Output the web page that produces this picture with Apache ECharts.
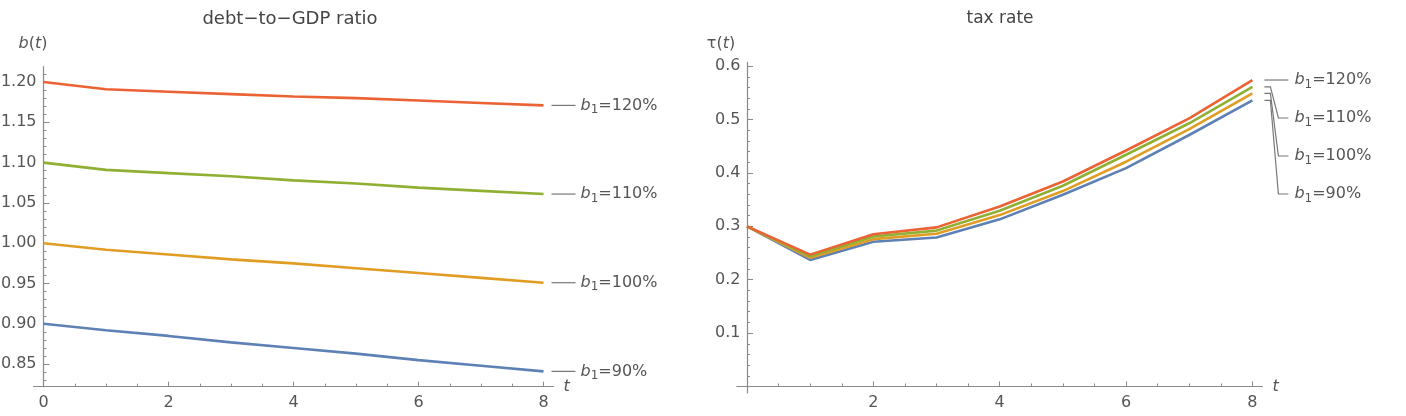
<!DOCTYPE html>
<html>
<head>
<meta charset="utf-8">
<script src="https://cdn.jsdelivr.net/npm/echarts@6.0.0/dist/echarts.min.js"></script>
<style>
html,body{margin:0;padding:0;background:#fff;}
#chart{width:1406px;height:416px;}
</style>
</head>
<body>
<div id="chart"></div>
<script>
// ---------- data ----------
const tValues = [0, 1, 2, 3, 4, 5, 6, 7, 8];
const scenarioLabels = ['90%', '100%', '110%', '120%'];
const debt90  = [0.900, 0.892, 0.885, 0.877, 0.870, 0.863, 0.855, 0.848, 0.841];
const debt100 = [1.000, 0.992, 0.986, 0.980, 0.975, 0.969, 0.963, 0.957, 0.951];
const debt110 = [1.100, 1.091, 1.087, 1.083, 1.078, 1.074, 1.069, 1.065, 1.061];
const debt120 = [1.200, 1.191, 1.188, 1.185, 1.182, 1.180, 1.177, 1.174, 1.171];
const tax90   = [0.300, 0.237, 0.271, 0.279, 0.313, 0.359, 0.409, 0.471, 0.536];
const tax100  = [0.300, 0.241, 0.276, 0.286, 0.321, 0.366, 0.421, 0.482, 0.549];
const tax110  = [0.300, 0.244, 0.281, 0.292, 0.329, 0.376, 0.434, 0.493, 0.561];
const tax120  = [0.300, 0.247, 0.285, 0.298, 0.337, 0.384, 0.442, 0.502, 0.574];
const debtYTicks  = [0.85, 0.90, 0.95, 1.00, 1.05, 1.10, 1.15, 1.20];
const debtYMinor  = [0.83, 0.84, 0.86, 0.87, 0.88, 0.89, 0.91, 0.92, 0.93, 0.94, 0.96, 0.97, 0.98, 0.99,
                     1.01, 1.02, 1.03, 1.04, 1.06, 1.07, 1.08, 1.09, 1.11, 1.12, 1.13, 1.14, 1.16, 1.17, 1.18, 1.19, 1.21];
const taxYTicks   = [0.1, 0.2, 0.3, 0.4, 0.5, 0.6];
const taxYMinor   = [0.02, 0.04, 0.06, 0.08, 0.12, 0.14, 0.16, 0.18, 0.22, 0.24, 0.26, 0.28, 0.32, 0.34, 0.36, 0.38,
                     0.42, 0.44, 0.46, 0.48, 0.52, 0.54, 0.56, 0.58];
const tTicks      = [0, 2, 4, 6, 8];
const tMinor      = [0.5, 1, 1.5, 2.5, 3, 3.5, 4.5, 5, 5.5, 6.5, 7, 7.5];
const debtXLabels = [0, 2, 4, 6, 8];
const taxXLabels  = [2, 4, 6, 8];

// ---------- style ----------
const colors = ['#5E81B5', '#E19C24', '#8FB032', '#EB6235'];
const axisColor = '#8a8a8a';
const labelColor = '#555555';
const FONT = 'DejaVu Sans';

const debtSeries = [debt90, debt100, debt110, debt120];
const taxSeries = [tax90, tax100, tax110, tax120];

function pairs(ys) { return tValues.map((t, i) => [t, ys[i]]); }

function xAxes(grid, labels, labelMargin) {
  return [{
    type: 'value', gridIndex: grid, min: -0.16, max: 8.16, position: 'bottom',
    axisLine: { show: true, onZero: true, lineStyle: { color: axisColor, width: 1.2 } },
    axisTick: { show: true, inside: true, length: 5, customValues: tTicks, lineStyle: { color: axisColor } },
    axisLabel: { show: true, customValues: labels, color: labelColor, fontFamily: FONT, fontSize: 16, margin: labelMargin,
                 formatter: v => String(Math.round(v)) },
    splitLine: { show: false },
    name: 't', nameLocation: 'end', nameGap: 10,
    nameTextStyle: { fontStyle: 'italic', color: labelColor, fontFamily: FONT, fontSize: 16, verticalAlign: 'top', padding: [-8, 0, 0, 0] }
  }, {
    type: 'value', gridIndex: grid, min: -0.16, max: 8.16, position: 'bottom',
    axisLine: { show: false, onZero: true },
    axisTick: { show: true, inside: true, length: 3, customValues: tMinor, lineStyle: { color: axisColor } },
    axisLabel: { show: false },
    splitLine: { show: false }
  }];
}

function yAxes(grid, xIdx, min, max, major, minor, digits, labelMargin) {
  return [{
    type: 'value', gridIndex: grid, min: min, max: max, position: 'left',
    axisLine: { show: true, onZero: true, onZeroAxisIndex: xIdx, lineStyle: { color: axisColor, width: 1.2 } },
    axisTick: { show: true, inside: true, length: 6, customValues: major, lineStyle: { color: axisColor } },
    axisLabel: { show: true, customValues: major, color: labelColor, fontFamily: FONT, fontSize: 16, margin: labelMargin,
                 formatter: v => v.toFixed(digits) },
    splitLine: { show: false }
  }, {
    type: 'value', gridIndex: grid, min: min, max: max, position: 'left',
    axisLine: { show: false, onZero: true, onZeroAxisIndex: xIdx },
    axisTick: { show: true, inside: true, length: 3, customValues: minor, lineStyle: { color: axisColor } },
    axisLabel: { show: false },
    splitLine: { show: false }
  }];
}

const richLabel = {
  b: { fontStyle: 'italic', fontSize: 16, fontFamily: FONT, fill: labelColor },
  s: { fontSize: 12, fontFamily: FONT, fill: labelColor, padding: [9, 0, 0, 0] },
  n: { fontSize: 16, fontFamily: FONT, fill: labelColor }
};

function labelText(name) { return '{b|b}{s|1}{n|=' + name + '}'; }

const lineSeries = [];
debtSeries.forEach((ys, i) => lineSeries.push({
  type: 'line', xAxisIndex: 0, yAxisIndex: 0, data: pairs(ys), showSymbol: false, symbol: 'none',
  lineStyle: { color: colors[i], width: 2.6 }, itemStyle: { color: colors[i] }, z: 2 + i, animation: false
}));
taxSeries.forEach((ys, i) => lineSeries.push({
  type: 'line', xAxisIndex: 2, yAxisIndex: 2, data: pairs(ys), showSymbol: false, symbol: 'none',
  lineStyle: { color: colors[i], width: 2.6 }, itemStyle: { color: colors[i] }, z: 2 + i, animation: false
}));

// labels for the left panel: a dash and the label beside each line end
lineSeries.push({
  type: 'custom', xAxisIndex: 0, yAxisIndex: 0, z: 10, animation: false, clip: false,
  data: debtSeries.map((ys, i) => [tValues[tValues.length - 1], ys[ys.length - 1], i]),
  renderItem: function (params, api) {
    const p = api.coord([api.value(0), api.value(1)]);
    const i = api.value(2);
    return { type: 'group', children: [
      { type: 'line', shape: { x1: p[0] + 8, y1: p[1], x2: p[0] + 32, y2: p[1] }, style: { stroke: '#777', lineWidth: 1.2 } },
      { type: 'text', x: p[0] + 37, y: p[1], style: { text: labelText(scenarioLabels[i]), rich: richLabel, fill: labelColor, verticalAlign: 'middle', align: 'left' } }
    ]};
  }
});

// labels for the right panel: stacked labels with leader lines
lineSeries.push({
  type: 'custom', xAxisIndex: 2, yAxisIndex: 2, z: 10, animation: false, clip: false,
  data: taxSeries.map((ys, i) => [tValues[tValues.length - 1], ys[ys.length - 1], i]),
  renderItem: function (params, api) {
    const p = api.coord([api.value(0), api.value(1)]);
    const i = api.value(2);
    const top = api.coord([tValues[tValues.length - 1], tax120[tax120.length - 1]]);
    const rank = 3 - i;
    const ly = top[1] + rank * 38;
    const pts = rank === 0
      ? [[p[0] + 12, p[1]], [p[0] + 36, p[1]]]
      : [[p[0] + 12, p[1]], [p[0] + 18, p[1]], [p[0] + 26, ly], [p[0] + 36, ly]];
    return { type: 'group', children: [
      { type: 'polyline', shape: { points: pts }, style: { stroke: '#777', lineWidth: 1.2, fill: null } },
      { type: 'text', x: p[0] + 42, y: ly, style: { text: labelText(scenarioLabels[i]), rich: richLabel, fill: labelColor, verticalAlign: 'middle', align: 'left' } }
    ]};
  }
});

const option = {
  backgroundColor: '#ffffff',
  animation: false,
  grid: [
    { left: 33.5, width: 520, top: 66.7, height: 320, containLabel: false, outerBoundsMode: 'none' },
    { left: 736.9, width: 525.6, top: 62.4, height: 330.5, containLabel: false, outerBoundsMode: 'none' }
  ],
  xAxis: [...xAxes(0, debtXLabels, 8), ...xAxes(1, taxXLabels, 2)],
  yAxis: [...yAxes(0, 0, 0.822, 1.219, debtYTicks, debtYMinor, 2, -3), ...yAxes(1, 2, -0.012, 0.607, taxYTicks, taxYMinor, 1, -3.5)],
  graphic: [
    { type: 'text', x: 290, y: 19, style: { text: 'debt\u2212to\u2212GDP ratio', fill: '#444', font: '18px "DejaVu Sans"', align: 'center', verticalAlign: 'middle' } },
    { type: 'text', x: 1000, y: 19, style: { text: 'tax rate', fill: '#444', font: '17px "DejaVu Sans"', align: 'center', verticalAlign: 'middle' } },
    { type: 'text', x: 33, y: 44, style: { text: '{i|b}{n|(}{i|t}{n|)}', align: 'center', verticalAlign: 'middle',
        rich: { i: { fontStyle: 'italic', fontSize: 16, fontFamily: FONT, fill: labelColor }, n: { fontSize: 16, fontFamily: FONT, fill: labelColor } } } },
    { type: 'text', x: 721, y: 44, style: { text: '{n|τ(}{i|t}{n|)}', align: 'center', verticalAlign: 'middle',
        rich: { i: { fontStyle: 'italic', fontSize: 16, fontFamily: FONT, fill: labelColor }, n: { fontSize: 16, fontFamily: FONT, fill: labelColor } } } }
  ],
  series: lineSeries
};

const chart = echarts.init(document.getElementById('chart'), null, { renderer: 'canvas' });
chart.setOption(option);
</script>
</body>
</html>
